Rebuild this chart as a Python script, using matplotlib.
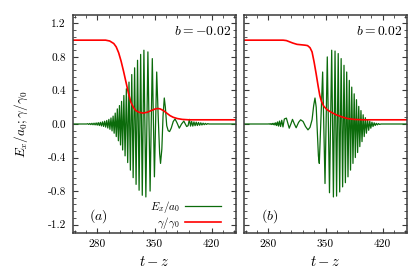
import matplotlib
matplotlib.use("Agg")
import matplotlib.pyplot as plt
from matplotlib.ticker import MultipleLocator, FixedLocator, FixedFormatter
import numpy as np

plt.rcParams['mathtext.fontset'] = 'cm'
plt.rcParams['font.family'] = ['cmr10', 'DejaVu Serif']
plt.rcParams['axes.unicode_minus'] = False

# ---------------- data ----------------
b_labels = ["$b = -0.02$", "$b = 0.02$"]
panel_tags = ["$(a)$", "$(b)$"]
x_ticks = [280, 350, 420]
y_ticks = [1.2, 0.8, 0.4, 0.0, -0.4, -0.8, -1.2]
y_ticklabels = ["1.2", "0.8", "0.4", "0.0", "-0.4", "-0.8", "-1.2"]

# panel (a): E_x / a_0
ex_a_t = [250, 267, 268.0, 269.3, 270.6, 271.9, 273.2, 274.5, 275.8, 277.1, 278.4, 279.7,
          281.0, 282.3, 283.6, 284.9, 286.2, 287.5, 288.8, 290.1, 291.4, 292.7, 294.0,
          295.3, 296.6, 297.9, 299.2, 300.5, 301.8, 303.1, 304.4, 305.7, 307.0, 308.3,
          309.6, 310.9, 312.4, 313.9, 315.5, 317.1, 318.7, 320.4, 322.1, 323.8, 325.6,
          327.4, 329.2, 331.1, 333.0, 335.0, 337.0, 339.4, 341.9, 344.6, 347.3, 349.9,
          352.7, 354.5, 356.3, 357.4, 359.0, 360.5, 362.0, 363.3, 365.0, 366.8, 368.5,
          370.5, 373.0, 375.2, 377.8, 380.4, 383.2, 386.0, 387.8, 389.5, 391.2, 392.8,
          394.2, 395.6, 397.0, 398.4, 399.8, 401.2, 402.6, 404.0, 405.4, 406.8, 408.2,
          409.6, 411.0, 412.4, 413.8, 415.2, 417.0, 450]
ex_a_v = [0, 0, 0.004, -0.005, 0.006, -0.007, 0.008, -0.009, 0.010, -0.011, 0.013, -0.014,
          0.016, -0.018, 0.020, -0.023, 0.026, -0.029, 0.033, -0.037, 0.042, -0.048, 0.055,
          -0.063, 0.072, -0.082, 0.094, -0.11, 0.13, -0.15, 0.18, -0.20, 0.22, -0.25,
          0.27, -0.31, 0.34, -0.38, 0.42, -0.46, 0.50, -0.55, 0.59, -0.64, 0.67,
          -0.72, 0.76, -0.79, 0.83, -0.85, 0.88, -0.87, 0.86, -0.80, 0.78, -0.63,
          0.62, 0.10, -0.35, -0.47, -0.30, 0.10, 0.31, 0.20, -0.02, -0.08, -0.09,
          -0.05, 0.03, 0.06, 0.01, -0.05, 0.0, 0.035, 0.0, -0.03, -0.02, 0.055,
          -0.025, 0.03, -0.025, 0.025, -0.02, 0.022, -0.018, 0.018, -0.015, 0.014, -0.012,
          0.010, -0.008, 0.007, -0.005, 0.004, 0, 0]

# panel (a): gamma / gamma_0
g_a_t = [250, 290, 295, 300, 303, 306, 309, 312, 315, 318, 321, 324, 327, 331, 336, 341,
         346, 351, 354, 357, 361, 365, 369, 373, 378, 384, 392, 450]
g_a_v = [1.0, 1.0, 0.99, 0.96, 0.92, 0.85, 0.75, 0.63, 0.50, 0.37, 0.26, 0.20, 0.16, 0.14,
         0.13, 0.14, 0.16, 0.18, 0.185, 0.18, 0.16, 0.13, 0.10, 0.08, 0.065, 0.055, 0.05, 0.05]

# panel (b): E_x / a_0
ex_b_t = [250, 280, 281.0, 282.0, 283.0, 284.0, 285.0, 286.0, 287.0, 288.0, 289.0, 290.1,
          291.2, 292.4, 293.6, 294.9, 296.3, 297.8, 299.5, 302.0, 305.5, 307.5, 309.5,
          311.8, 314.0, 317.0, 319.5, 322.5, 325.5, 328.5, 331.0, 333.5, 335.5, 337.1,
          338.6, 340.0, 341.3, 342.4, 346.5, 349.4, 352.2, 354.9, 357.6, 359.7, 361.7,
          363.6, 365.6, 367.4, 369.2, 371.0, 372.7, 374.4, 376.0, 377.6, 379.2, 380.7,
          382.2, 383.7, 385.2, 386.6, 388.0, 389.4, 390.8, 392.1, 393.5, 394.8, 396.2,
          397.5, 398.9, 400.2, 401.6, 403.0, 404.3, 405.6, 407.0, 408.3, 409.7, 411.0,
          412.4, 413.7, 415.1, 416.4, 418.0, 450]
ex_b_v = [0, 0, 0.003, -0.004, 0.005, -0.006, 0.007, -0.008, 0.010, -0.012, 0.015, -0.018,
          0.025, -0.025, 0.035, -0.030, 0.045, -0.035, 0.060, 0.070, -0.05, 0.0, 0.055,
          0.0, -0.045, 0.02, 0.05, 0.03, -0.03, -0.07, -0.04, 0.05, 0.22, 0.31,
          0.20, -0.10, -0.38, -0.47, 0.62, -0.71, 0.80, -0.82, 0.88, -0.87, 0.87,
          -0.86, 0.84, -0.81, 0.78, -0.75, 0.70, -0.70, 0.62, -0.63, 0.52, -0.55,
          0.44, -0.47, 0.36, -0.40, 0.29, -0.34, 0.21, -0.27, 0.16, -0.21, 0.11,
          -0.15, 0.075, -0.11, 0.05, -0.075, 0.035, -0.05, 0.022, -0.03, 0.014, -0.018,
          0.008, -0.01, 0.005, -0.005, 0, 0]

# panel (b): gamma / gamma_0
g_b_t = [250, 298, 302, 306, 310, 315, 320, 325, 328, 331, 333.5, 336, 338.5, 341, 343,
         345, 348, 352, 357, 363, 370, 377, 385, 395, 450]
g_b_v = [1.0, 1.0, 0.995, 0.98, 0.965, 0.95, 0.945, 0.94, 0.935, 0.91, 0.86, 0.74, 0.60,
         0.45, 0.34, 0.27, 0.21, 0.17, 0.14, 0.11, 0.085, 0.065, 0.055, 0.05, 0.05]

green = "#0b6b0b"
red = "#ff0000"
spine_col = "#3a3a3a"

fig = plt.figure(figsize=(4.15, 2.77), dpi=100)
W, H = 415.0, 277.0
ax_a = fig.add_axes([73 / W, 1 - 233 / H, 163 / W, 218 / H])
ax_b = fig.add_axes([244 / W, 1 - 233 / H, 163 / W, 218 / H])

data = [(ex_a_t, ex_a_v, g_a_t, g_a_v), (ex_b_t, ex_b_v, g_b_t, g_b_v)]
for i, ax in enumerate([ax_a, ax_b]):
    et, ev, gt, gv = data[i]
    ax.plot(et, ev, color=green, lw=0.9, label="$E_x/a_0$")
    ax.plot(gt, gv, color=red, lw=1.2, label=r"$\gamma/\gamma_0$")
    ax.set_xlim(250, 450)
    ax.set_ylim(-1.3, 1.3)
    ax.xaxis.set_major_locator(FixedLocator(x_ticks))
    ax.xaxis.set_minor_locator(MultipleLocator(14))
    ax.yaxis.set_major_locator(FixedLocator(y_ticks))
    ax.yaxis.set_minor_locator(MultipleLocator(0.08))
    ax.tick_params(which='both', direction='in', top=True, right=True, color=spine_col,
                   labelsize=8.2, pad=5)
    ax.tick_params(which='major', length=3.5, width=0.8)
    ax.tick_params(which='minor', length=2, width=0.6)
    for s in ax.spines.values():
        s.set_color(spine_col)
        s.set_linewidth(1.1)
    ax.set_xlabel("$t-z$", fontsize=10.5, labelpad=4)
    ax.text(0.97, 0.925, b_labels[i], transform=ax.transAxes, ha='right', va='center',
            fontsize=9.8)
    ax.text(0.155, 0.078, panel_tags[i], transform=ax.transAxes, ha='center', va='center',
            fontsize=10)

ax_a.yaxis.set_major_formatter(FixedFormatter(y_ticklabels))
ax_b.set_yticklabels([])
ax_a.set_ylabel(r"$E_x/a_0;\gamma/\gamma_0$", fontsize=9.5, labelpad=13)

leg = ax_a.legend(loc='lower right', frameon=False, markerfirst=False, fontsize=8,
                  handlelength=3.2, handletextpad=0.5, labelspacing=0.0,
                  borderaxespad=0.0, bbox_to_anchor=(0.935, -0.01))
leg.set_zorder(5)

fig.savefig("out.png", dpi=100)
